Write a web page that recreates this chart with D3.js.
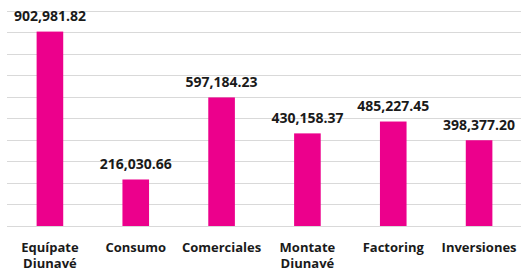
<!DOCTYPE html>
<html>
<head>
<meta charset="utf-8">
<script src="https://cdn.jsdelivr.net/npm/d3@7"></script>
<style>
  body { margin: 0; background: #fff; }
  svg { display: block; }
</style>
</head>
<body>
<script>
var categories = [["Equípate", "Diunavé"], ["Consumo"], ["Comerciales"], ["Montate", "Diunavé"], ["Factoring"], ["Inversiones"]]
var values = [902981.82, 216030.66, 597184.23, 430158.37, 485227.45, 398377.20]
var gridTicks = [0, 100000, 200000, 300000, 400000, 500000, 600000, 700000, 800000, 900000, 1000000]

var width = 521, height = 273

var svg = d3.select("body").append("svg")
    .attr("width", width)
    .attr("height", height)

var x = d3.scaleBand()
    .domain(d3.range(values.length))
    .range([7, 522])
    .paddingInner(0.69)
    .paddingOuter(0.345)

var y = d3.scaleLinear()
    .domain([0, 1000000])
    .range([226, 10.7])

// gridlines
svg.append("g")
  .selectAll("line")
  .data(gridTicks)
  .enter().append("line")
  .attr("x1", 7)
  .attr("x2", 521)
  .attr("y1", function(d) { return Math.round(y(d)) + 0.5 })
  .attr("y2", function(d) { return Math.round(y(d)) + 0.5 })
  .style("stroke", "#d9d9d9")
  .style("stroke-width", 1)

// bars
svg.append("g")
  .selectAll("rect")
  .data(values)
  .enter().append("rect")
  .attr("x", function(d, i) { return x(i) })
  .attr("width", x.bandwidth())
  .attr("y", function(d) { return y(d) })
  .attr("height", function(d) { return y(0) - y(d) })
  .style("fill", "#ec008c")

var fmt = d3.format(",.2f")

// value labels
svg.append("g")
  .selectAll("text")
  .data(values)
  .enter().append("text")
  .attr("x", function(d, i) { return x(i) + x.bandwidth() / 2 })
  .attr("y", function(d) { return y(d) - 10.5 })
  .attr("text-anchor", "middle")
  .style("font-family", "'Open Sans', sans-serif")
  .style("font-weight", "bold")
  .style("font-size", "14px")
  .style("fill", "#1a1a1a")
  .text(function(d) { return fmt(d) })

// category labels
var cat = svg.append("g")
  .selectAll("text")
  .data(categories)
  .enter().append("text")
  .attr("text-anchor", "middle")
  .style("font-family", "'Open Sans', sans-serif")
  .style("font-weight", "bold")
  .style("font-size", "13px")
  .style("fill", "#1a1a1a")

cat.selectAll("tspan")
  .data(function(d, i) { return d.map(function(t) { return { t: t, i: i } }) })
  .enter().append("tspan")
  .attr("x", function(d) { return x(d.i) + x.bandwidth() / 2 })
  .attr("y", function(d, j) { return 251.5 + j * 16.5 })
  .text(function(d) { return d.t })
</script>
</body>
</html>
